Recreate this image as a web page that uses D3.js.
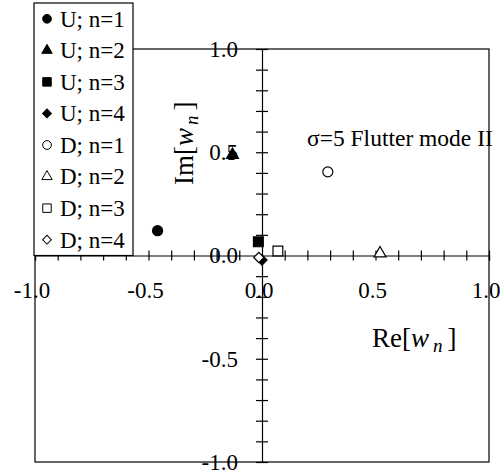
<!DOCTYPE html>
<html>
<head>
<meta charset="utf-8">
<script src="https://cdn.jsdelivr.net/npm/d3@7"></script>
<style>
  body { margin: 0; background: #fff; }
  svg text { font-family: "Liberation Serif", "Times New Roman", serif; fill: #000; }
</style>
</head>
<body>
<svg id="chart" width="503" height="472"></svg>
<script>
// series, in legend order
const seriesLabels = ["U; n=1", "U; n=2", "U; n=3", "U; n=4", "D; n=1", "D; n=2", "D; n=3", "D; n=4"];
const reValues = [-0.46, -0.13, -0.016, 0.0, 0.29, 0.52, 0.07, -0.014];
const imValues = [0.12, 0.487, 0.066, -0.022, 0.405, 0.01, 0.022, -0.01];
const markerShapes = ["circle", "triangle", "square", "diamond", "circle", "triangle", "square", "diamond"];
const markerFilled = [true, true, true, true, false, false, false, false];

const majorTicks = [-1, -0.5, 0, 0.5, 1];
const tickLabels = ["-1.0", "-0.5", "0.0", "0.5", "1.0"];
const annotation = "σ=5 Flutter mode II";

const svg = d3.select("#chart");

const margin = {left: 35, right: 489, top: 49, bottom: 462};
const x = d3.scaleLinear().domain([-1, 1]).range([margin.left, margin.right]);
const y = d3.scaleLinear().domain([-1, 1]).range([margin.bottom, margin.top]);

const minorTicks = d3.range(-10, 11).filter(i => i !== 0).map(i => i / 10);

// frame
svg.append("rect")
    .attr("x", x(-1)).attr("y", y(1))
    .attr("width", x(1) - x(-1)).attr("height", y(-1) - y(1))
    .attr("fill", "none").attr("stroke", "#000").attr("stroke-width", 1.2);

// x axis through the origin, ticks crossing the line
const xAxis = svg.append("g")
    .attr("transform", "translate(0," + y(0) + ")")
    .call(d3.axisBottom(x).tickValues(minorTicks).tickSize(5).tickFormat(""));
xAxis.select(".domain").attr("stroke-width", 1.2);
xAxis.selectAll(".tick line").attr("y1", -5).attr("y2", 5).attr("stroke-width", 1.2);

// y axis through the origin
const yAxis = svg.append("g")
    .attr("transform", "translate(" + x(0) + ",0)")
    .call(d3.axisLeft(y).tickValues(minorTicks).tickSize(6).tickFormat(""));
yAxis.select(".domain").attr("stroke-width", 1.2);
yAxis.selectAll(".tick line").attr("x1", -6).attr("x2", 6).attr("stroke-width", 1.2);

// tick labels
svg.append("g").selectAll("text")
    .data(majorTicks)
    .join("text")
    .attr("x", x(0) - 24)
    .attr("y", d => y(d))
    .attr("dy", "0.34em")
    .attr("text-anchor", "end")
    .attr("font-size", 23)
    .text((d, i) => tickLabels[i]);

svg.append("g").selectAll("text")
    .data(majorTicks)
    .join("text")
    .attr("x", d => x(d) - 3)
    .attr("y", y(0) + 35)
    .attr("dy", "0.34em")
    .attr("text-anchor", "middle")
    .attr("font-size", 23)
    .text((d, i) => tickLabels[i]);

// axis titles
const xTitle = svg.append("text")
    .attr("x", 372).attr("y", 347)
    .attr("font-size", 27);
xTitle.append("tspan").text("Re[");
xTitle.append("tspan").attr("font-style", "italic").text("w");
xTitle.append("tspan").attr("font-style", "italic").attr("font-size", 19).attr("dx", 4).attr("dy", 5).text("n");
xTitle.append("tspan").attr("dx", 5).attr("dy", -5).text("]");

const yTitle = svg.append("text")
    .attr("transform", "translate(193,185) rotate(-90)")
    .attr("font-size", 27);
yTitle.append("tspan").text("Im[");
yTitle.append("tspan").attr("font-style", "italic").text("w");
yTitle.append("tspan").attr("font-style", "italic").attr("font-size", 19).attr("dx", 3).attr("dy", 5).text("n");
yTitle.append("tspan").attr("dx", 5).attr("dy", -5).text("]");

svg.append("text")
    .attr("x", 307).attr("y", 146)
    .attr("font-size", 23.5)
    .text(annotation);

// markers
function symbolPath(shape, scale) {
  if (shape === "circle") return d3.symbol(d3.symbolCircle, 80 * scale)();
  if (shape === "triangle") return d3.symbol(d3.symbolTriangle, 62 * scale)();
  if (shape === "square") return d3.symbol(d3.symbolSquare, 96 * scale)();
  return d3.symbol(d3.symbolSquare, 52 * scale)();
}

svg.append("g").selectAll("path")
    .data(seriesLabels)
    .join("path")
    .attr("d", (d, i) => symbolPath(markerShapes[i], 1))
    .attr("transform", (d, i) => "translate(" + x(reValues[i]) + "," + y(imValues[i]) + ")"
        + (markerShapes[i] === "diamond" ? " rotate(45)" : ""))
    .attr("fill", (d, i) => markerFilled[i] ? "#000" : "#fff")
    .attr("stroke", "#000")
    .attr("stroke-width", 1.2);

// legend
const legend = svg.append("g");
legend.append("rect")
    .attr("x", 34).attr("y", 3)
    .attr("width", 99).attr("height", y(0) - 3)
    .attr("fill", "#fff").attr("stroke", "#000").attr("stroke-width", 1.2);

const rowH = (y(0) - 3) / seriesLabels.length;
const rows = legend.selectAll("g.row")
    .data(seriesLabels)
    .join("g")
    .attr("class", "row")
    .attr("transform", (d, i) => "translate(0," + (3 + rowH * (i + 0.5)) + ")");

rows.append("path")
    .attr("d", (d, i) => symbolPath(markerShapes[i], 0.75))
    .attr("transform", (d, i) => "translate(47,0)" + (markerShapes[i] === "diamond" ? " rotate(45)" : ""))
    .attr("fill", (d, i) => markerFilled[i] ? "#000" : "#fff")
    .attr("stroke", "#000")
    .attr("stroke-width", 1);

rows.append("text")
    .attr("x", 60)
    .attr("dy", "0.34em")
    .attr("font-size", 23)
    .text(d => d);
</script>
</body>
</html>
